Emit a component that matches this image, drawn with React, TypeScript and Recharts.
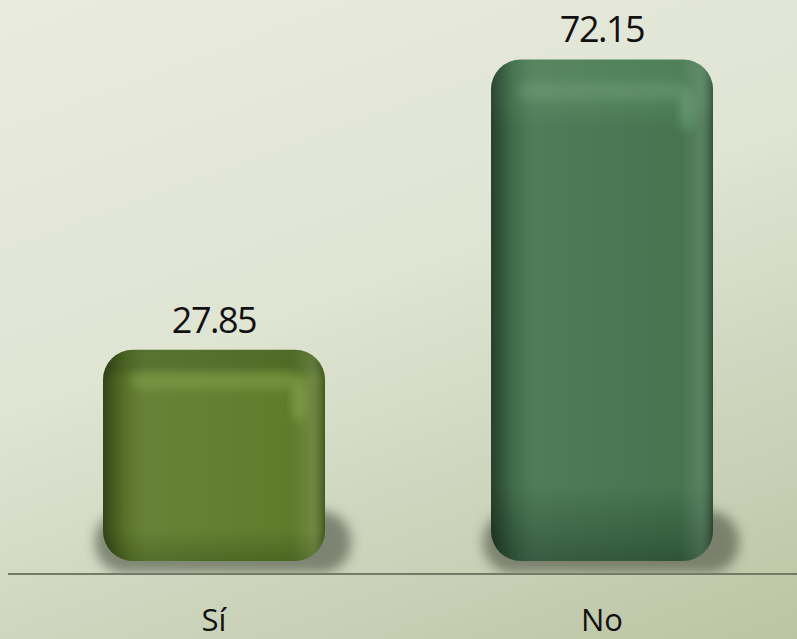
import React from 'react';
import { BarChart, Bar, XAxis, YAxis, LabelList } from 'recharts';

const categories = ['Sí', 'No'];
const values = [27.85, 72.15];

const data = categories.map((name, i) => ({ name, value: values[i] }));

// front / edge / highlight tones for each bar
const palettes = [
  { top: '#4f6c26', mid: '#5f7c2c', bottom: '#4b6621', hi: '#93b35a' },
  { top: '#4f8059', mid: '#467550', bottom: '#2e5438', hi: '#78a682' },
];

const FONT = '"Open Sans", "Noto Sans", sans-serif';

const BarShape = (props: any) => {
  const { x, y, width, height, index } = props;
  const p = palettes[index % palettes.length];
  const bottom = y + height + 29; // body sits below the value baseline
  const h = bottom - y;
  const r = 30;
  const id = `b${index}`;
  return (
    <g>
      <defs>
        <linearGradient id={`${id}v`} x1="0" y1="0" x2="0" y2="1">
          <stop offset="0" stopColor={p.top} />
          <stop offset="0.08" stopColor={p.top} />
          <stop offset="0.14" stopColor={p.mid} />
          <stop offset="0.85" stopColor={p.mid} />
          <stop offset="1" stopColor={p.bottom} />
        </linearGradient>
        <linearGradient id={`${id}h`} x1="0" y1="0" x2="1" y2="0">
          <stop offset="0" stopColor="#000" stopOpacity="0.45" />
          <stop offset="0.1" stopColor="#000" stopOpacity="0.08" />
          <stop offset="0.2" stopColor="#fff" stopOpacity="0.05" />
          <stop offset="0.85" stopColor="#fff" stopOpacity="0" />
          <stop offset="0.93" stopColor="#fff" stopOpacity="0.08" />
          <stop offset="1" stopColor="#000" stopOpacity="0.3" />
        </linearGradient>
        <filter id={`${id}s`} x="-20%" y="-50%" width="140%" height="200%">
          <feGaussianBlur stdDeviation="6" />
        </filter>
        <filter id={`${id}g`} x="-20%" y="-50%" width="140%" height="200%">
          <feGaussianBlur stdDeviation="5" />
        </filter>
      </defs>
      <rect x={x - 8} y={bottom - 50} width={width + 34} height={62} rx={r} fill="#4a5040" opacity={0.6} filter={`url(#${id}s)`} />
      <rect x={x} y={y} width={width} height={h} rx={r} fill={`url(#${id}v)`} />
      <rect x={x} y={y} width={width} height={h} rx={r} fill={`url(#${id}h)`} />
      <rect x={x + 28} y={y + 22} width={width - 56} height={18} rx={9} fill={p.hi} opacity={0.35} filter={`url(#${id}g)`} />
      <ellipse cx={x + width - 26} cy={y + 50} rx={8} ry={22} fill={p.hi} opacity={0.45} filter={`url(#${id}g)`} />
    </g>
  );
};

const ValueLabel = (props: any) => {
  const { x, y, width, value } = props;
  return (
    <text x={x + width / 2} y={y - 17} textAnchor="middle" fontFamily={FONT} fontSize={36} letterSpacing={-1.5} fill="#111">
      {value}
    </text>
  );
};

const CategoryTick = (props: any) => {
  const { x, y, payload } = props;
  return (
    <text x={x} y={y + 49} textAnchor="middle" fontFamily={FONT} fontSize={31} fill="#111">
      {payload.value}
    </text>
  );
};

export default function App() {
  return (
    <div
      style={{
        position: 'fixed',
        top: 0,
        left: 0,
        width: 797,
        height: 639,
        background: 'linear-gradient(160deg, #e9ebdf 0%, #dfe4d3 45%, #c8d0b6 80%, #bcc4a3 100%)',
      }}
    >
      <BarChart width={797} height={639} data={data} margin={{ top: 8, right: 0, left: 8, bottom: 0 }}>
        <XAxis
          dataKey="name"
          height={65}
          padding={{ left: 12, right: 1 }}
          tickLine={false}
          axisLine={{ stroke: '#737b68', strokeWidth: 2 }}
          tick={<CategoryTick />}
          interval={0}
        />
        <YAxis hide type="number" domain={[-6.4, 80]} allowDataOverflow />
        <Bar dataKey="value" barSize={222} isAnimationActive={false} shape={<BarShape />}>
          <LabelList dataKey="value" content={<ValueLabel />} />
        </Bar>
      </BarChart>
    </div>
  );
}
